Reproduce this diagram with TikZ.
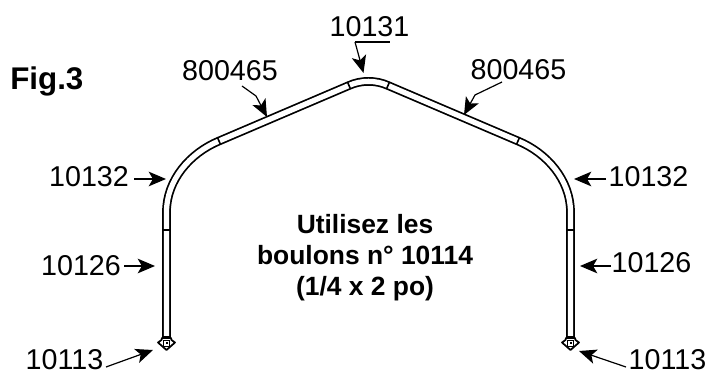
\documentclass[tikz,border=0pt]{standalone}
\usepackage{fontspec}
\setmainfont{Liberation Sans}
\usetikzlibrary{arrows.meta}
\tikzset{
 lbl/.style={inner sep=0pt,anchor=base,font=\fontsize{21.5}{24}\selectfont},
 bold/.style={inner sep=0pt,anchor=base,align=center,font=\fontsize{19.8}{23.6}\selectfont\bfseries},
 tube/.style={draw=black,line width=1.3pt,double=white,double distance=3.95pt},
 joint/.style={line width=1.2pt},
 ptr/.style={line width=0.9pt,line join=round,-{Stealth[length=13pt,width=11pt,inset=3.2pt]}},
 base/.style={line width=1.3pt,fill=white,line join=round}
}
\begin{document}
\begin{tikzpicture}[x=0.75pt,y=-0.75pt]
\useasboundingbox (0,0) rectangle (708,374);
\fill[white] (0,0) rectangle (708,374);
% tube
\draw[tube,line join=round] (166.5,337) -- (166.5,212)
  .. controls (166.5,180) and (190,153) .. (219,141)
  -- (349,85.5) .. controls (361,80) and (376,80) .. (388,85.5)
  -- (518,141) .. controls (547,153) and (570.5,180) .. (570.5,212) -- (570.5,337);
% joints
\draw[joint] (163,230) -- (170,230);
\draw[joint] (567,230) -- (574,230);
\draw[joint] (217.5,137.5) -- (220.5,144.5);
\draw[joint] (519.5,137.5) -- (516.5,144.5);
\draw[joint] (347.5,82) -- (350.5,89);
\draw[joint] (389.5,82) -- (386.5,89);
% feet
\foreach \x in {166.5,570.5}{
  \draw[base] (\x-4.5,338) -- (\x+4.5,338) -- (\x+5,340) -- (\x+8.5,342.5) -- (\x,350) -- (\x-8.5,342.5) -- (\x-5,340) -- cycle;
  \draw[line width=0.7pt] (\x-4,336) -- (\x+4,336);
  \draw[line width=0.5pt] (\x-3,340) rectangle (\x+3,346);
  \fill (\x-1,342) rectangle (\x+1,344);
}
% labels
\node[lbl] (a) at (369.5,37) {10131};
\node[lbl] (b) at (230,81) {800465};
\node[lbl] (c) at (518.5,80) {800465};
\node[lbl] (d) at (89,187) {10132};
\node[lbl] (e) at (648.5,187) {10132};
\node[lbl] (f) at (81,276) {10126};
\node[lbl] (g) at (651.5,273) {10126};
\node[lbl] (h) at (64.5,370) {10113};
\node[lbl] (i) at (667.5,370) {10113};
\node[inner sep=0pt,anchor=base west,font=\fontsize{23.5}{24}\selectfont\bfseries] (fig) at (10,90) {Fig.3};
\node[bold] (t) at (365,296) {Utilisez les\\boulons n° 10114\\(1/4 x 2 po)};
% pointer ends
\coordinate (sa) at (355,42);
\coordinate (ea) at (390,42);
\coordinate (pa) at (363.5,73);
\coordinate (sb) at (242,86);
\coordinate (kb) at (256,96);
\coordinate (pb) at (267,117);
\coordinate (sc) at (502,82);
\coordinate (kc) at (475,95);
\coordinate (pc) at (464,115);
\coordinate (sd) at (134,179);
\coordinate (pd) at (166,179);
\coordinate (se) at (606,179);
\coordinate (pe) at (574,179);
\coordinate (sf) at (124,266);
\coordinate (pf) at (155,266);
\coordinate (sg) at (611,266);
\coordinate (pg) at (580,266);
\coordinate (sh) at (106,367);
\coordinate (ph) at (153,350);
\coordinate (si) at (626,367);
\coordinate (pi) at (579,351);
\draw[line width=0.9pt] (sa) -- (ea);
\draw[ptr] (sa) -- (pa);
\draw[ptr] (sb) -- (kb) -- (pb);
\draw[ptr] (sc) -- (kc) -- (pc);
\draw[ptr] (sd) -- (pd);
\draw[ptr] (se) -- (pe);
\draw[ptr] (sf) -- (pf);
\draw[ptr] (sg) -- (pg);
\draw[ptr] (sh) -- (ph);
\draw[ptr] (si) -- (pi);
\end{tikzpicture}
\end{document}
